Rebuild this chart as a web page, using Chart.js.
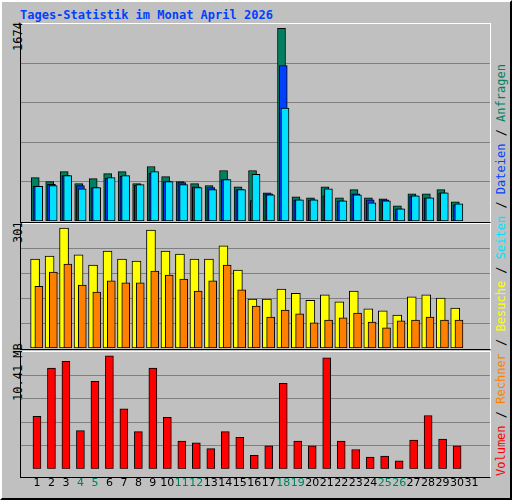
<!DOCTYPE html>
<html><head><meta charset="utf-8">
<script src="https://cdn.jsdelivr.net/npm/chart.js@4"></script>
<style>
body{margin:0;width:512px;height:500px;background:#c0c0c0;overflow:hidden;font-family:"DejaVu Sans Mono",monospace}
#outer{position:absolute;left:0;top:0;width:508px;height:496px;border-top:2px solid #fff;border-left:2px solid #fff;border-right:2px solid #000;border-bottom:2px solid #000}
.panel{position:absolute;left:20px;width:469px;border-top:1px solid #fff;border-right:1px solid #fff;border-left:1px solid #000;border-bottom:1px solid #000}
canvas{position:absolute}
.rot{position:absolute;transform-origin:0 0;transform:rotate(-90deg);white-space:nowrap;font-size:12px}
</style></head><body>
<div id="outer"></div>
<div style="position:absolute;left:20px;top:8px;color:#0040ff;font-weight:bold;font-size:12px">Tages-Statistik im Monat April 2026</div>
<div class="panel" style="top:23px;height:198px"></div>
<div class="panel" style="top:223px;height:125px"></div>
<div class="panel" style="top:351px;height:125px"></div>
<div class="rot" style="left:11px;top:51px">1674</div>
<div class="rot" style="left:11px;top:243px">301</div>
<div class="rot" style="left:11px;top:401px">10.41 MB</div>
<div class="rot" style="left:494px;top:476px"><span style="color:#ff0000">Volumen</span> / <span style="color:#ff8000">Rechner</span> / <span style="color:#ffff00">Besuche</span> / <span style="color:#00e0ff">Seiten</span> / <span style="color:#0040ff">Dateien</span> / <span style="color:#008060">Anfragen</span></div>
<canvas id="c1" style="left:21px;top:24px;width:469px;height:197px"></canvas>
<canvas id="c2" style="left:21px;top:224px;width:469px;height:124px"></canvas>
<canvas id="c3" style="left:21px;top:352px;width:469px;height:146px"></canvas>
<script>
const days=[1,2,3,4,5,6,7,8,9,10,11,12,13,14,15,16,17,18,19,20,21,22,23,24,25,26,27,28,29,30];
const tickDays=[1,2,3,4,5,6,7,8,9,10,11,12,13,14,15,16,17,18,19,20,21,22,23,24,25,26,27,28,29,30,31];
const weekend=[4,5,11,12,18,19,25,26];
const anfragen=[369,334,420,317,360,403,420,317,463,377,334,317,300,429,291,429,240,1637,206,197,291,197,266,197,189,129,231,231,266,163];
const dateien=[294,311,386,300,283,363,380,303,406,334,326,291,283,351,266,174,231,1320,180,180,214,171,231,180,180,103,214,197,240,137];
const seiten=[294,300,386,274,283,369,386,309,420,334,309,283,266,351,266,397,223,960,180,180,274,171,223,154,171,103,214,197,240,146];
const besuche=[216,223,291,226,201,235,216,211,286,235,228,216,216,248,189,119,119,143,133,116,129,112,138,95,90,80,124,129,121,97];
const rechner=[150,184,204,153,136,163,158,158,187,177,167,138,163,201,141,102,75,92,83,61,68,73,85,63,49,66,68,75,68,68];
const volumen=[4.67,8.97,9.57,3.40,7.79,10.07,5.35,3.32,8.97,4.59,2.48,2.31,1.80,3.32,2.81,1.21,2.05,7.62,2.48,2.05,9.90,2.48,1.72,1.04,1.13,0.70,2.56,4.75,2.64,2.05];
const maxTop=1674,maxMid=301,maxBot=10.41;

const pts=(arr,sh)=>arr.map((v,i)=>({x:days[i]+sh,y:v}));
const ds=(arr,sh,col,w)=>({data:pts(arr,sh),backgroundColor:col,borderColor:'#000',borderWidth:1,barThickness:w,grouped:false,borderSkipped:false});
function opts(max,showX){
  return {responsive:false,animation:false,devicePixelRatio:1,
    layout:{padding:0},
    plugins:{legend:{display:false},tooltip:{enabled:false}},
    scales:{
      x:{type:'linear',min:0.42,max:31.75,display:showX,
        afterBuildTicks:a=>{a.ticks=tickDays.map(v=>({value:v}));},
        grid:{display:false,drawTicks:false},border:{display:false},
        ticks:{padding:8,autoSkip:false,maxRotation:0,font:{family:'DejaVu Sans',size:11},
          color:c=>weekend.includes(c.tick.value)?'#008060':'#000',callback:v=>String(v)}},
      y:{min:0,max:max,display:true,
        afterBuildTicks:a=>{a.ticks=[1,2,3,4].map(k=>({value:max*k/5}));},
        ticks:{display:false},grid:{color:'#808080',lineWidth:1,drawTicks:false},border:{display:false}}
    }};
}
function mk(id,w,h,datasets,max,showX){
  const c=document.getElementById(id);c.width=w;c.height=h;
  new Chart(c,{type:'bar',data:{datasets},options:opts(max,showX)});
}
mk('c1',469,197,[ds(seiten,0.12,'#00e0ff',8),ds(dateien,0,'#0040ff',8),ds(anfragen,-0.12,'#008060',8)],maxTop,false);
mk('c2',469,124,[ds(rechner,0.13,'#ff8000',8),ds(besuche,-0.13,'#ffff00',9)],maxMid,false);
mk('c3',469,146,[ds(volumen,0,'#ff0000',8)],maxBot,true);
</script></body></html>
